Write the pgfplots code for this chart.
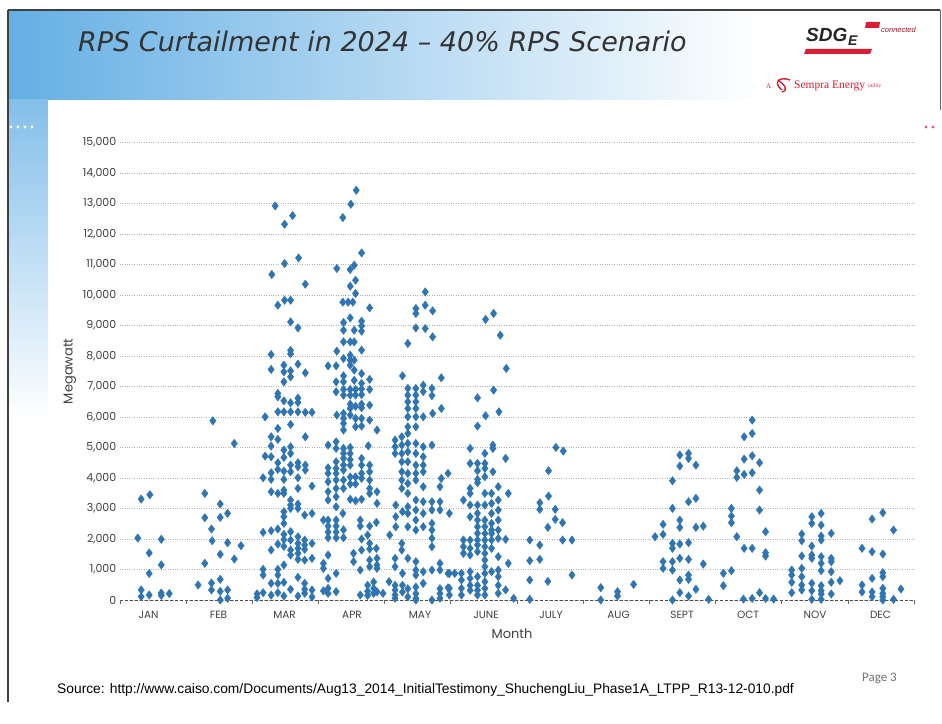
\documentclass[border=0pt]{standalone}
\usepackage{fontspec}
\setmainfont{Liberation Sans}
\newfontfamily\gothic{Poppins}
\newfontfamily\verd{DejaVu Sans}
\newfontfamily\calib{Carlito}
\newfontfamily\serif{Liberation Serif}
\usepackage{pgfplots}
\pgfplotsset{compat=1.18}

\definecolor{dotblue}{RGB}{47,117,180}
\definecolor{hdrblue}{RGB}{100,175,228}
\definecolor{lbl}{RGB}{64,64,64}
\definecolor{sdgred}{RGB}{215,30,50}

% curtailment points, x = month position (jittered inside the month), y = MW
\pgfplotstableread{
x y
0.92 3308
1.05 3450
0.87 2030
1.22 1990
1.04 1540
1.22 1150
1.04 870
0.92 330
0.92 110
1.04 164
1.22 230
1.22 150
1.34 210
1.99 5873
2.31 5130
1.87 3493
2.10 3144
1.87 2697
2.10 2707
2.21 2838
1.97 2325
1.98 1943
2.21 1878
2.41 1780
2.10 1496
2.31 1343
1.87 1201
1.77 491
1.97 557
1.97 330
2.10 677
2.10 284
2.21 330
2.10 0
2.21 55
2.92 12913
3.06 12314
3.18 12598
3.27 11210
3.06 11027
2.87 10667
3.37 10349
2.96 9661
3.06 9825
3.15 9825
3.15 9115
3.26 8918
2.86 8046
3.15 8178
3.15 8068
2.86 7555
3.05 7696
3.05 7477
3.15 7510
3.15 7313
3.26 7729
3.37 7444
3.05 7150
2.96 6770
2.96 6660
3.05 6527
3.15 6462
3.26 6615
3.26 6474
2.77 6003
2.96 6167
3.05 6167
3.15 6167
3.26 6167
3.37 6150
3.47 6150
2.96 5622
3.15 5753
3.37 5348
2.86 5349
2.86 5044
2.96 5262
2.77 4716
2.86 4694
3.15 5021
3.15 4803
3.05 4913
3.05 4673
2.96 4497
2.96 4279
3.26 4497
3.26 4366
3.37 4421
3.37 4258
3.15 4421
3.15 4203
2.86 4170
3.05 4225
2.74 4006
2.86 3952
3.05 3952
3.26 4006
2.86 3548
2.96 3494
3.05 3600
3.05 3494
3.26 3657
3.47 3733
3.15 3275
3.15 3111
3.15 3002
3.26 3144
3.26 3002
3.05 2893
3.05 2729
3.36 2784
3.47 2838
3.05 2511
2.96 2325
2.86 2270
2.74 2216
3.15 2238
3.05 2150
3.26 2074
3.26 1856
3.26 1693
3.26 1529
3.26 1332
3.36 1965
3.36 1802
3.36 1660
3.15 1965
3.05 1976
3.05 1758
2.96 1834
2.86 1638
3.47 1856
3.15 1638
3.15 1474
3.05 1146
3.47 1365
3.36 1310
2.74 1004
2.74 819
2.96 1004
2.96 819
2.86 546
2.96 546
3.05 580
3.26 743
3.15 350
3.36 546
3.36 350
3.36 218
3.47 327
2.65 200
2.74 240
2.86 160
2.96 240
3.26 130
3.05 130
3.47 100
2.65 80
4.13 13428
4.05 12969
3.93 12533
4.21 11374
3.84 10864
4.04 10831
4.10 10971
4.12 10480
4.04 10283
4.12 10044
3.93 9760
4.01 9760
4.08 9760
4.33 9574
4.04 9246
3.94 9094
3.94 8842
4.21 9137
4.21 8984
4.21 8810
4.10 8842
3.94 8460
4.04 8460
4.10 8460
4.21 8188
3.84 8155
4.04 8024
4.04 7860
4.04 7696
3.94 7914
3.71 7673
3.83 7673
4.10 7860
4.10 7533
4.10 7200
3.94 7346
3.94 7150
4.21 7420
4.21 7100
3.83 7150
3.83 6822
4.33 7230
4.33 6900
3.94 6900
4.04 6900
4.12 6900
4.21 6920
4.21 6730
3.94 6714
4.04 6714
4.12 6714
4.04 6420
4.12 6350
4.21 6420
4.21 6300
4.33 6386
3.84 6059
3.94 6114
3.94 5950
3.94 5786
3.94 5568
4.04 6277
4.04 6059
4.12 5950
4.12 5677
4.21 5950
4.21 5700
4.33 5895
4.44 5568
3.71 5076
3.83 5185
3.83 4967
3.94 4967
3.94 4803
3.94 4640
3.94 4421
4.04 5000
4.04 4800
4.04 4600
4.04 4421
4.31 5054
3.71 4333
3.71 4149
3.71 3875
3.71 3548
3.71 3275
3.83 4530
3.83 4312
3.83 4149
3.83 3930
3.83 3657
3.83 3384
3.83 3056
3.94 4257
3.94 3930
3.94 3657
4.04 4030
4.04 3800
4.12 4030
4.12 3800
4.21 4640
4.21 4421
4.21 4149
4.21 3985
4.33 4421
4.33 4203
4.33 3930
4.33 3657
4.33 3493
4.44 3548
4.44 3166
4.04 3300
4.12 3250
4.21 3300
3.93 2838
3.64 2620
3.71 2620
3.83 2620
3.71 2423
3.71 2227
3.71 2041
3.83 2423
3.83 2227
3.83 2041
3.94 2300
3.94 2041
4.19 2620
4.19 2423
4.33 2423
4.43 2544
4.30 2129
4.21 1998
4.33 1856
4.33 1670
4.43 1690
4.09 1528
4.21 1637
4.09 1256
3.71 1474
3.64 1200
3.64 1037
4.19 982
4.33 1310
4.33 1092
4.44 1365
4.44 1146
4.44 1037
3.83 873
3.71 710
3.71 382
3.83 273
3.71 218
4.30 480
4.30 284
4.30 150
4.39 590
4.39 382
4.39 218
4.44 270
4.19 164
3.64 300
5.16 10097
5.02 9553
5.02 9389
5.16 9661
5.27 9476
5.02 8918
5.16 8897
5.27 8624
4.90 8406
4.82 7346
5.40 7281
4.90 6933
4.90 6714
4.90 6495
4.90 6277
5.02 6933
5.02 6714
5.02 6495
5.02 6277
5.13 7040
5.13 6830
5.26 6933
5.26 6700
5.40 6277
5.27 6114
4.90 6003
4.90 5676
5.02 6003
5.02 5676
5.13 6003
4.71 5240
4.71 5021
4.71 4803
4.81 5348
4.81 5076
4.81 4803
4.81 4530
4.81 4203
4.81 3930
4.81 3657
4.90 5458
4.90 5131
4.90 4858
4.90 4530
4.90 4149
4.90 3821
4.90 3494
5.02 5131
5.02 4803
5.02 4421
5.02 4149
5.02 3930
5.13 5021
5.13 4694
5.13 4421
5.13 4203
5.13 3712
5.26 5076
5.40 3985
5.50 4149
5.38 3711
4.72 3111
4.72 2729
4.72 2401
4.82 2893
4.90 3056
4.90 2838
4.90 2401
5.02 3275
5.02 2948
5.02 2620
5.02 2293
5.13 3220
5.13 2838
5.13 2401
5.26 3220
5.26 2948
5.26 2511
5.26 2293
5.26 2020
5.26 1747
5.38 3220
5.38 2948
4.63 2129
4.81 1856
4.81 1638
4.71 1365
4.71 1092
4.90 1365
5.02 1256
5.02 982
5.02 818
5.13 928
5.26 982
5.38 982
5.38 1201
5.50 873
4.82 873
4.62 600
4.71 480
4.71 327
4.71 164
4.71 55
4.82 480
4.82 262
4.53 218
4.90 370
4.90 100
5.02 425
5.02 207
5.02 55
5.02 0
5.13 546
5.26 0
5.38 370
5.38 207
5.38 55
5.50 400
6.18 9389
6.06 9193
6.28 8679
6.37 7588
5.94 6625
6.18 6878
6.06 6037
6.26 6168
5.94 5698
5.83 4967
6.17 5076
6.17 4967
6.05 4803
6.36 4640
5.83 4476
5.94 4476
5.94 4235
5.94 3952
5.94 3843
6.05 4476
6.05 4312
6.05 4040
6.17 4203
5.83 3657
5.83 3494
5.73 3275
6.25 3712
6.25 3275
6.25 2948
6.25 2620
6.40 3494
6.15 3493
6.15 3166
6.15 2838
6.15 2511
6.15 2293
6.05 3494
6.05 3111
6.05 2620
6.05 2400
6.05 2180
6.05 1965
5.94 3111
5.94 2839
5.94 2620
5.94 2401
5.94 2183
5.94 1965
5.83 3111
5.83 2729
5.52 2838
6.05 1747
6.05 1529
5.94 1802
5.94 1583
5.73 1965
5.73 1747
5.73 1529
5.83 1965
5.83 1693
5.83 1474
6.15 2183
6.15 1965
6.15 1693
6.25 2293
6.25 2020
6.36 1987
6.40 1201
6.25 1420
6.05 1310
6.05 1092
6.05 873
5.52 873
5.60 873
5.70 873
5.70 655
5.70 382
5.70 164
5.83 928
5.83 710
5.83 480
5.83 320
5.94 764
5.94 480
5.94 320
5.94 164
6.05 600
6.05 380
6.05 164
6.15 928
6.25 982
6.25 764
6.25 480
6.25 218
6.36 330
5.52 380
5.52 164
6.48 55
7.11 5000
7.22 4880
7.00 4235
7.00 3406
6.87 3187
6.87 2970
7.10 2970
7.10 2642
7.21 2533
6.99 2380
6.72 1965
6.87 1801
7.21 1965
7.35 1965
6.72 1288
6.87 1332
6.72 655
6.99 611
7.35 819
6.72 20
7.78 404
8.03 273
8.03 131
8.27 513
7.78 0
8.59 2074
8.71 2150
8.71 2478
8.85 3907
8.85 3002
8.85 1856
8.85 1693
8.71 1256
8.71 1037
8.85 1256
8.85 982
8.96 4750
9.09 4803
9.09 4640
8.96 4390
9.20 4421
9.09 3220
9.20 3330
8.96 2620
8.96 2380
9.20 2380
9.31 2420
8.96 1834
9.09 1878
8.96 1365
9.09 1332
9.31 1179
8.96 655
9.09 819
9.09 677
8.85 0
8.96 240
9.09 130
9.20 350
9.39 20
10.04 5895
10.04 5458
9.92 5349
9.92 4618
10.04 4727
10.15 4497
9.81 4235
9.81 4018
9.92 4116
10.04 4170
10.15 3603
10.15 2948
9.73 3002
9.73 2751
9.73 2533
9.81 2074
10.24 2238
9.92 1693
10.04 1693
10.24 1550
10.24 1441
9.73 961
9.61 873
9.61 470
9.91 30
10.04 50
10.24 50
10.36 30
10.15 240
10.63 982
10.63 819
10.63 580
10.63 240
10.78 2161
10.78 1943
10.78 1441
10.78 1037
10.78 764
10.78 491
10.78 327
10.93 2729
10.93 2511
10.93 1768
10.93 1474
10.93 1365
10.93 546
10.93 306
10.93 20
11.07 2838
11.07 2456
11.07 2096
11.07 1965
11.07 1419
11.07 1201
11.07 961
11.07 470
11.07 306
11.07 197
11.07 20
11.22 2183
11.22 1365
11.22 1256
11.22 928
11.22 580
11.22 197
11.35 633
11.68 1693
11.68 491
11.68 262
11.83 2653
11.83 1583
11.83 710
11.83 262
11.83 109
11.99 2860
11.99 1506
11.99 895
11.99 764
11.99 382
11.99 218
11.99 109
11.99 0
12.15 2293
12.15 20
12.26 360
}\curtail

\begin{document}
\begin{tikzpicture}
\useasboundingbox (0,0) rectangle (942pt,723pt);

% slide decoration, drawn in pixel units (y downwards)
\begin{scope}[x=1pt,y=-1pt,shift={(0,723pt)}]
  \fill[white] (0,0) rectangle (942,723);
  \shade[left color=hdrblue, right color=white] (8,10) rectangle (760,100);
  \shade[top color=hdrblue!80, bottom color=white] (8,100) rectangle (48,420);
  \fill[white] (48,100) rectangle (915,655);
  \draw[black!75, line width=1.6pt] (8,10) -- (940,10);
  \draw[black!75, line width=1.6pt] (8,10) -- (8,702);
  \draw[black!60, line width=1pt] (940,10) -- (940,110);
  \foreach \i in {0,...,4} \fill[white] (4+7*\i,127) circle (1.6);
  \fill[sdgred!70] (926,127) circle (1.6) (933,127) circle (1.6);

  \node[anchor=base west, inner sep=0pt, text=black!80, font=\verd\itshape\fontsize{27}{30}\selectfont]
    at (78,52) {RPS Curtailment in 2024 – 40\% RPS Scenario};

  % logo
  \node[anchor=base west, inner sep=0pt, text=black!85, font=\bfseries\itshape\fontsize{19}{20}\selectfont]
    at (806,42) {SDG};
  \node[anchor=base west, inner sep=0pt, text=black!85, font=\bfseries\itshape\fontsize{14}{15}\selectfont]
    at (848,46) {E};
  \fill[sdgred] (806,49) -- (872,49) -- (870,54) -- (804,54) -- cycle;
  \fill[sdgred] (866,22) -- (880,22) -- (879,28) -- (865,28) -- cycle;
  \node[anchor=base west, inner sep=0pt, text=sdgred!70!black, font=\itshape\fontsize{7.5}{8}\selectfont]
    at (881,33) {connected};
  \node[anchor=base west, inner sep=0pt, text=sdgred, font=\serif\fontsize{7}{8}\selectfont] at (766,89) {A};
  \draw[sdgred, line width=1.4pt] (782,90) .. controls (772,82) and (780,76) .. (790,80)
        (778,80) .. controls (786,86) and (788,90) .. (782,92);
  \node[anchor=base west, inner sep=0pt, text=sdgred, font=\serif\fontsize{11.5}{12}\selectfont] at (794,89) {Sempra Energy};
  \node[anchor=base west, inner sep=0pt, text=sdgred, font=\serif\fontsize{5.5}{6}\selectfont] at (868,88) {utility};

  \node[anchor=base west, inner sep=0pt, font=\fontsize{13.8}{15}\selectfont]
    at (57,693) {Source: http://www.caiso.com/Documents/Aug13\_2014\_InitialTestimony\_ShuchengLiu\_Phase1A\_LTPP\_R13-12-010.pdf};
  \node[anchor=base east, inner sep=0pt, text=black!55, font=\calib\fontsize{13}{15}\selectfont] at (897,681) {Page 3};
\end{scope}

\begin{axis}[
    at={(119.8pt,123pt)}, anchor=south west,
    scale only axis,
    width=794.5pt, height=457.7pt,
    xmin=0.601, xmax=12.46,
    ymin=0, ymax=15000,
    axis lines*=left,
    x axis line style={densely dashed, black!70, line width=0.7pt},
    y axis line style={draw=none},
    ytick={0,1000,...,15000},
    scaled y ticks=false,
    /pgf/number format/assume math mode=true,
    /pgf/number format/1000 sep={,},
    yticklabel style={font=\gothic\fontsize{11}{12}\selectfont, text=lbl},
    xtick={1.030,2.075,3.060,4.067,5.082,6.067,7.037,8.045,8.993,9.978,10.978,11.955},
    xticklabels={JAN,FEB,MAR,APR,MAY,JUNE,JULY,AUG,SEPT,OCT,NOV,DEC},
    xticklabel style={font=\gothic\fontsize{10.5}{12}\selectfont, text=lbl, yshift=-8pt},
    major tick length=0pt,
    extra x ticks={0.601,1.589,2.577,3.565,4.553,5.541,6.529,7.517,8.505,9.493,10.481,11.469,12.457},
    extra x tick labels={},
    extra x tick style={major tick length=4pt, tick align=outside,
        tick style={draw=black!60, line width=0.6pt}, grid=none},
    ymajorgrids,
    grid style={dotted, black!30, line width=0.6pt},
    ylabel={Megawatt},
    ylabel style={font=\gothic\fontsize{13}{15}\selectfont, text=lbl,
        at={(axis description cs:-0.0627,0.5)}, anchor=center},
    xlabel={Month},
    xlabel style={font=\gothic\fontsize{13}{15}\selectfont, text=lbl,
        at={(axis description cs:0.4937,-0.0743)}, anchor=center},
    clip=false,
]
\addplot[only marks, mark=diamond*, mark size=4.2pt,
    mark options={fill=dotblue, draw=dotblue}] table[x=x,y=y] {\curtail};
\end{axis}
\end{tikzpicture}
\end{document}
